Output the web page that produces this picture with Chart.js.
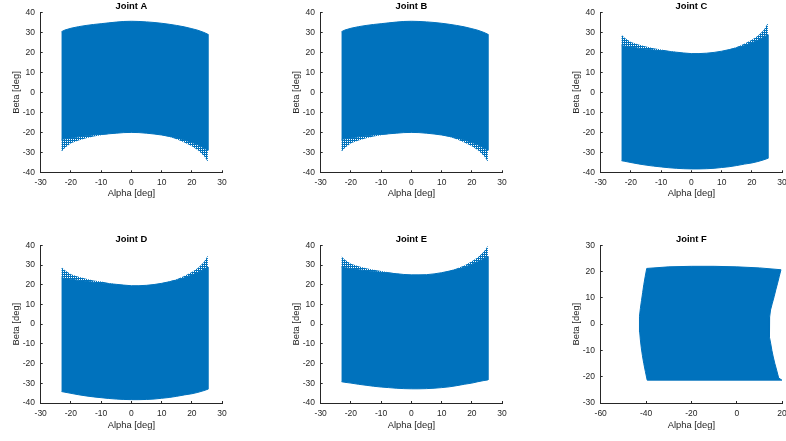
<!DOCTYPE html>
<html>
<head>
<meta charset="utf-8">
<script src="https://cdn.jsdelivr.net/npm/chart.js@4.4.1/dist/chart.umd.min.js"></script>
<style>
  html, body { margin: 0; padding: 0; background: #fff; }
  body { position: relative; width: 786px; height: 441px; overflow: hidden; }
  canvas { position: absolute; }
</style>
</head>
<body>
<script>
// Reachable alpha/beta workspace of each joint, described by its boundary curves (degrees).
const alphaGrid = [-23.1, -22, -20, -17.5, -15, -12.5, -10, -7.5, -5, -2.5, 0, 2.5, 5, 7.5, 10, 12.5, 15, 17.5, 20, 22, 24, 25.3];

// Joints A and B
const abUpper      = [30.5, 31.3, 32.2, 33.0, 33.6, 34.1, 34.5, 34.9, 35.3, 35.6, 35.7, 35.6, 35.4, 35.1, 34.7, 34.2, 33.6, 32.9, 32.0, 31.2, 30.1, 29.2];
const abLowerSolid = [-23.5, -23.2, -22.8, -22.2, -21.7, -21.3, -21.0, -20.7, -20.4, -20.1, -20.0, -20.1, -20.4, -20.8, -21.3, -22.0, -22.8, -23.8, -25.0, -26.2, -27.8, -29.0];
const abLowerEdge  = [-29.7, -27.8, -25.5, -24.0, -22.9, -22.0, -21.4, -20.8, -20.4, -20.1, -20.0, -20.1, -20.4, -20.8, -21.3, -22.2, -23.4, -25.0, -27.0, -29.0, -31.8, -34.7];

// Joints C and D
const cdUpperEdge  = [28.9, 27.3, 25.3, 24.0, 23.0, 22.2, 21.6, 20.9, 20.3, 19.8, 19.5, 19.5, 19.7, 20.1, 20.7, 21.6, 22.8, 24.4, 26.5, 28.5, 31.5, 34.8];
const cdUpperSolid = [23.5, 23.2, 22.8, 22.2, 21.7, 21.3, 20.9, 20.5, 20.2, 19.8, 19.5, 19.5, 19.7, 20.1, 20.7, 21.5, 22.4, 23.5, 24.9, 26.2, 27.8, 29.0];
const cdLower      = [-34.2, -34.5, -35.1, -35.8, -36.4, -36.9, -37.3, -37.7, -38.0, -38.2, -38.3, -38.3, -38.2, -38.0, -37.6, -37.2, -36.6, -35.9, -35.3, -34.6, -33.7, -33.0];

// Joint E
const eUpperEdge   = [34.3, 32.7, 30.7, 29.4, 28.4, 27.6, 27.0, 26.3, 25.7, 25.2, 25.0, 25.0, 25.1, 25.5, 26.1, 27.0, 28.2, 29.8, 31.9, 33.9, 36.9, 39.8];
const eUpperSolid  = [28.9, 28.6, 28.2, 27.6, 27.1, 26.7, 26.3, 25.9, 25.6, 25.2, 25.0, 25.0, 25.1, 25.5, 26.1, 26.9, 27.8, 28.9, 30.3, 31.6, 33.2, 34.4];
const eLower       = [-29.2, -29.5, -29.9, -30.5, -31.0, -31.5, -31.9, -32.2, -32.5, -32.7, -32.8, -32.8, -32.7, -32.5, -32.2, -31.8, -31.2, -30.5, -29.9, -29.2, -28.6, -28.3];

// Joint F (top edge left to right, right edge top to bottom, left edge bottom to top)
const fTopAlpha   = [-39.7, -30, -20, -10, 0, 10, 19.5];
const fTopBeta    = [21.2, 21.8, 22.0, 22.0, 21.8, 21.4, 20.7];
const fRightBeta  = [18.0, 15.6, 13.0, 10.5, 8.0, 5.4, 2.7, 0, -2.5, -5, -7.5, -10, -12.5, -15, -17.5, -20.5, -21.3];
const fRightAlpha = [18.7, 18.0, 17.2, 16.5, 15.7, 14.9, 14.5, 14.3, 14.4, 14.6, 15.0, 15.5, 16.1, 16.8, 17.6, 18.5, 19.9];
const fLeftBeta   = [-21.3, -18, -15, -12, -9, -6, -3, 0, 3, 6, 9, 12, 15, 18, 21.2];
const fLeftAlpha  = [-39.5, -40.3, -41.0, -41.6, -42.1, -42.5, -42.8, -43.0, -42.8, -42.5, -42.0, -41.5, -41.0, -40.4, -39.7];

// Axis ticks
const alphaTicks  = [-30, -20, -10, 0, 10, 20, 30];
const betaTicks   = [-40, -30, -20, -10, 0, 10, 20, 30, 40];
const alphaTicksF = [-60, -40, -20, 0, 20];
const betaTicksF  = [-30, -20, -10, 0, 10, 20, 30];

const panelTitles = ['Joint A', 'Joint B', 'Joint C', 'Joint D', 'Joint E', 'Joint F'];

const BLUE = 'rgb(0,114,189)';
const AXIS = '#262626';
Chart.defaults.font.family = '"Liberation Sans", Arial, Helvetica, sans-serif';

// Loose 'x' marker texture used where the sampled points thin out
function markerPattern() {
  const c = document.createElement('canvas');
  c.width = 2; c.height = 2;
  const g = c.getContext('2d');
  g.fillStyle = BLUE;
  [[0, 0], [1, 0], [0, 1]].forEach(([x, y]) => g.fillRect(x, y, 1, 1));
  return g.createPattern(c, 'repeat');
}
const sparse = markerPattern();

// Closed region between two curves sharing the same alpha samples
function band(xs, top, bottom) {
  const pts = xs.map((x, i) => ({ x, y: top[i] }));
  for (let i = xs.length - 1; i >= 0; i--) pts.push({ x: xs[i], y: bottom[i] });
  return pts;
}
function region(points, color) {
  return {
    data: points, fill: 'shape', backgroundColor: color, borderColor: color,
    borderWidth: color === BLUE ? 1 : 0, pointRadius: 0, tension: 0
  };
}

const abSets = () => [
  region(band(alphaGrid, abUpper, abLowerSolid), BLUE),
  region(band(alphaGrid, abLowerSolid, abLowerEdge), sparse)
];
const cdSets = () => [
  region(band(alphaGrid, cdUpperSolid, cdLower), BLUE),
  region(band(alphaGrid, cdUpperEdge, cdUpperSolid), sparse)
];
const eSets = [
  region(band(alphaGrid, eUpperSolid, eLower), BLUE),
  region(band(alphaGrid, eUpperEdge, eUpperSolid), sparse)
];
const fPoints = []
  .concat(fTopAlpha.map((x, i) => ({ x, y: fTopBeta[i] })))
  .concat(fRightAlpha.map((x, i) => ({ x, y: fRightBeta[i] })))
  .concat(fLeftAlpha.map((x, i) => ({ x, y: fLeftBeta[i] })));
const fSets = [region(fPoints, BLUE)];

// Subplot placement on the page
const cols = [{ axLeft: 40.7, cl: 0 }, { axLeft: 320.7, cl: 280 }, { axLeft: 600.7, cl: 560 }];
const rows = [
  { axTop: 12.7, axBottom: 172.3, ct: 0, titlePad: 5.4, tickPad: 6.9 },
  { axTop: 245.3, axBottom: 403, ct: 232, titlePad: 3.6, tickPad: 7.6 }
];
const AW = 181.4, YW = 40, XH = 32, TITLE_H = 12.7, CW = 230;

const panels = [
  { sets: abSets(), xt: alphaTicks, yt: betaTicks },
  { sets: abSets(), xt: alphaTicks, yt: betaTicks },
  { sets: cdSets(), xt: alphaTicks, yt: betaTicks },
  { sets: cdSets(), xt: alphaTicks, yt: betaTicks },
  { sets: eSets, xt: alphaTicks, yt: betaTicks },
  { sets: fSets, xt: alphaTicksF, yt: betaTicksF }
];

function axis(ticks, label, isX, row) {
  return {
    type: 'linear',
    position: isX ? 'bottom' : 'left',
    min: ticks[0], max: ticks[ticks.length - 1],
    afterBuildTicks: s => { s.ticks = ticks.map(v => ({ value: v })); },
    afterFit: s => {
      if (isX) { s.height = XH; s.paddingLeft = 0; s.paddingRight = 0; }
      else { s.width = YW; s.paddingTop = 0; s.paddingBottom = 0; }
    },
    grid: { display: true, drawOnChartArea: false, drawTicks: true, tickLength: -2, color: AXIS, lineWidth: 1 },
    border: { display: true, color: AXIS, width: 1 },
    ticks: {
      autoSkip: false, maxRotation: 0, color: AXIS,
      font: { size: 8.5 },
      padding: isX ? row.tickPad : 7.7
    },
    title: {
      display: true, text: label, color: AXIS,
      font: { size: 9.4 },
      padding: isX ? { top: 0, bottom: row.titlePad } : { top: 9.7, bottom: 0 }
    }
  };
}

panels.forEach((p, idx) => {
  const col = cols[idx % 3], row = rows[Math.floor(idx / 3)];
  const H = Math.ceil(row.axBottom + XH - row.ct);
  const cv = document.createElement('canvas');
  cv.width = CW; cv.height = H;
  cv.style.left = col.cl + 'px'; cv.style.top = row.ct + 'px';
  cv.style.width = CW + 'px'; cv.style.height = H + 'px';
  document.body.appendChild(cv);

  new Chart(cv, {
    type: 'line',
    data: { datasets: p.sets },
    options: {
      responsive: false, animation: false, devicePixelRatio: 1,
      layout: {
        padding: {
          left: col.axLeft - YW - col.cl,
          top: row.axTop - TITLE_H - row.ct,
          right: CW - (col.axLeft + AW - col.cl),
          bottom: H - (row.axBottom + XH - row.ct)
        }
      },
      scales: { x: axis(p.xt, 'Alpha [deg]', true, row), y: axis(p.yt, 'Beta [deg]', false, row) },
      plugins: {
        legend: { display: false },
        tooltip: { enabled: false },
        title: {
          display: true, text: panelTitles[idx], fullSize: false, color: '#000',
          font: { size: 9.4, weight: 'bold' },
          padding: { top: 1, bottom: 0.42 }
        }
      }
    }
  });
});
</script>
</body>
</html>
